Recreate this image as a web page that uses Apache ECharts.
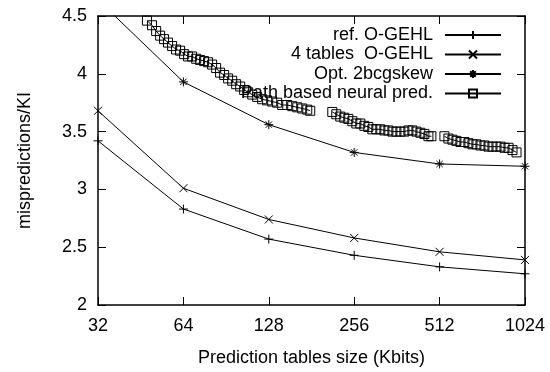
<!DOCTYPE html>
<html>
<head>
<meta charset="utf-8">
<script src="https://cdn.jsdelivr.net/npm/echarts@6/dist/echarts.min.js"></script>
<style>
html,body{margin:0;padding:0;background:#fff;}
#chart{width:550px;height:372px;}
</style>
</head>
<body>
<div id="chart"></div>
<script>
// ---- data ----
var sizes = [32, 64, 128, 256, 512, 1024];
var refOGEHL = [3.42, 2.83, 2.57, 2.43, 2.33, 2.27];
var fourTablesOGEHL = [3.68, 3.01, 2.74, 2.58, 2.46, 2.39];
var opt2bcgskew = [4.64, 3.93, 3.56, 3.32, 3.22, 3.20];

var neuralSizes1 = [47.6, 49.6, 51.3, 53.0, 54.7, 56.5, 58.4, 60.3, 62.3, 64.4, 66.5, 68.7, 71.0, 73.3, 75.7, 78.2, 80.8, 83.5, 86.2, 89.1, 92.0, 95.1, 98.2, 101.5, 104.8, 108.3, 111.9, 116.5, 121.3, 126.3, 131.6, 137.0, 142.7, 148.7, 154.8, 161.3, 167.9, 174.9, 179.2];
var neuralVals1 = [4.46, 4.42, 4.37, 4.33, 4.30, 4.27, 4.24, 4.21, 4.20, 4.17, 4.15, 4.15, 4.13, 4.12, 4.11, 4.10, 4.08, 4.05, 4.01, 3.99, 3.96, 3.94, 3.91, 3.89, 3.86, 3.84, 3.82, 3.80, 3.78, 3.77, 3.76, 3.75, 3.73, 3.73, 3.72, 3.71, 3.70, 3.69, 3.68];
var neuralSizes2 = [214.3, 221.3, 228.6, 236.2, 244.0, 252.1, 260.4, 269.0, 277.9, 287.1, 296.6, 306.4, 316.5, 327.0, 337.8, 349.0, 360.5, 372.4, 384.7, 397.4, 410.6, 424.1, 438.1, 452.6, 467.6, 479.1];
var neuralVals2 = [3.67, 3.65, 3.63, 3.62, 3.61, 3.59, 3.57, 3.57, 3.55, 3.54, 3.52, 3.52, 3.52, 3.51, 3.51, 3.50, 3.50, 3.50, 3.50, 3.51, 3.51, 3.50, 3.49, 3.48, 3.46, 3.46];
var neuralSizes3 = [532.4, 549.9, 568.1, 586.9, 606.3, 626.3, 647.0, 668.4, 690.5, 713.3, 736.9, 761.3, 786.4, 812.4, 839.3, 867.1, 895.7, 925.3, 956.0];
var neuralVals3 = [3.46, 3.44, 3.43, 3.42, 3.41, 3.41, 3.40, 3.39, 3.39, 3.38, 3.38, 3.37, 3.37, 3.37, 3.37, 3.36, 3.36, 3.34, 3.32];

var yTicks = [2, 2.5, 3, 3.5, 4, 4.5];
var xTicks = [32, 64, 128, 256, 512, 1024];
var seriesNames = ['ref. O-GEHL', '4 tables  O-GEHL', 'Opt. 2bcgskew', 'Path based neural pred.'];

// ---- build ----
function pairs(xs, ys) { return xs.map(function (x, i) { return [x, ys[i]]; }); }
var neuralData = pairs(neuralSizes1, neuralVals1)
  .concat([[neuralSizes1[neuralSizes1.length - 1], '-']])
  .concat(pairs(neuralSizes2, neuralVals2))
  .concat([[neuralSizes2[neuralSizes2.length - 1], '-']])
  .concat(pairs(neuralSizes3, neuralVals3));

var FONT = '"Liberation Sans", Arial, Helvetica, sans-serif';
var SYM_PLUS = 'path://M0,5 L10,5 M5,0 L5,10';
var SYM_X = 'path://M0,0 L10,10 M0,10 L10,0';
var SYM_STAR = 'path://M0,5 L10,5 M5,0 L5,10 M1.5,1.5 L8.5,8.5 M1.5,8.5 L8.5,1.5';
var SYM_SQ = 'path://M0,0 L10,0 L10,10 L0,10 Z';

function mkSeries(name, data, sym, size) {
  return {
    name: name, type: 'line', data: data, symbol: sym, symbolSize: size,
    connectNulls: false, clip: true,
    lineStyle: { color: '#000', width: 1 },
    itemStyle: { color: 'rgba(0,0,0,0)', borderColor: '#000', borderWidth: 1 },
    emphasis: { disabled: true }
  };
}

var legendRows = [26, 45.5, 65, 84.5];
var legends = seriesNames.map(function (n, i) {
  return {
    data: [n], orient: 'vertical', align: 'right', right: 48, top: legendRows[i],
    itemWidth: 56, itemHeight: 10, selectedMode: false, padding: 0,
    textStyle: { fontSize: 18, color: '#000', fontFamily: FONT, padding: [0, 7, 0, 0] }
  };
});

var axisCommonX = {
  type: 'log', logBase: 2, min: 32, max: 1024, splitNumber: 5,
  axisLine: { show: true, lineStyle: { color: '#000', width: 1.5 } },
  axisTick: { show: true, inside: true, length: 8, lineStyle: { color: '#000', width: 1 } },
  splitLine: { show: false }, minorTick: { show: false }
};
var axisCommonY = {
  type: 'value', min: 2, max: 4.5, interval: 0.5,
  axisLine: { show: true, lineStyle: { color: '#000', width: 1.5 } },
  axisTick: { show: true, inside: true, length: 8, lineStyle: { color: '#000', width: 1 } },
  splitLine: { show: false }
};

var chart = echarts.init(document.getElementById('chart'));
chart.setOption({
  animation: false,
  backgroundColor: '#fff',
  grid: { left: 98, right: 25, top: 16, bottom: 59, containLabel: false },
  legend: legends,
  xAxis: [
    Object.assign({}, axisCommonX, {
      position: 'bottom',
      name: 'Prediction tables size (Kbits)', nameLocation: 'middle', nameGap: 44,
      nameTextStyle: { fontSize: 18, color: '#000', fontFamily: FONT },
      axisLabel: { show: true, fontSize: 18, color: '#000', fontFamily: FONT, margin: 12,
        formatter: function (v) { var r = Math.round(v); return xTicks.indexOf(r) >= 0 ? String(r) : ''; } }
    }),
    Object.assign({}, axisCommonX, { position: 'top', axisLabel: { show: false } })
  ],
  yAxis: [
    Object.assign({}, axisCommonY, {
      position: 'left',
      axisLabel: { show: true, fontSize: 18, color: '#000', fontFamily: FONT, margin: 11,
        formatter: function (v) { return yTicks.indexOf(v) >= 0 ? String(v) : ''; } }
    }),
    Object.assign({}, axisCommonY, { position: 'right', axisLabel: { show: false } })
  ],
  graphic: [{
    type: 'text', left: 16, top: 92, rotation: Math.PI / 2,
    style: { text: 'mispredictions/KI', fontSize: 18, fill: '#000', fontFamily: FONT }
  }],
  series: [
    mkSeries(seriesNames[0], pairs(sizes, refOGEHL), SYM_PLUS, 9),
    mkSeries(seriesNames[1], pairs(sizes, fourTablesOGEHL), SYM_X, 8),
    mkSeries(seriesNames[2], pairs(sizes, opt2bcgskew), SYM_STAR, 9),
    mkSeries(seriesNames[3], neuralData, SYM_SQ, 9)
  ]
});
</script>
</body>
</html>
